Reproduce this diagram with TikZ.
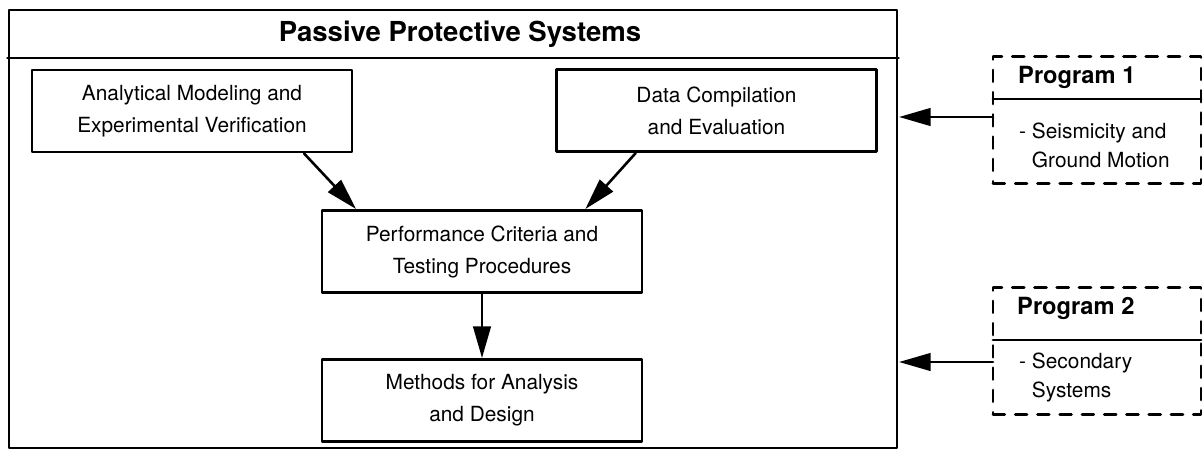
\documentclass[tikz,border=0pt]{standalone}
\usepackage{fontspec}
\setmainfont{TeX Gyre Heros}
\usetikzlibrary{arrows.meta}
\usetikzlibrary{calc}
\tikzset{
	block/.style={draw, line width=2.5pt, minimum width=9.6cm, minimum height=2.46cm, inner sep=0pt, align=center, font=\fontsize{17.8}{27.3}\selectfont},
	progbox/.style={draw, dash pattern=on 10pt off 9pt, line width=2.5pt, minimum width=6.24cm, minimum height=3.81cm, inner sep=0pt, outer sep=0pt},
	progtitle/.style={anchor=base west, inner sep=0pt, font=\fontsize{20.2}{24}\selectfont\bfseries},
	progtext/.style={anchor=west, align=left, inner sep=0pt, font=\fontsize{17.8}{24.7}\selectfont},
	arr/.style={-{Triangle[length=27pt, width=15pt]}, line width=2.2pt}
}

\begin{document}
\begin{tikzpicture}[line cap=round, line join=round, x=0.03cm, y=-0.03cm]
	\useasboundingbox (0,0) rectangle (1203,450);
	\node[draw, line width=2.5pt, minimum width=26.64cm, minimum height=13.14cm, inner sep=0pt] (outer) at (453,229) {};
	\coordinate (titlesep) at (0,58);
	\draw[line width=2.5pt] (outer.west |- titlesep) -- (outer.east |- titlesep);
	\node[font=\fontsize{23.5}{28}\selectfont\bfseries] (title) at (460,34) {Passive Protective Systems};
	\node[block] (analyt) at (192,111) {Analytical Modeling and\\Experimental Verification};
	\node[block] (datacomp) at (716.5,110.5) {Data Compilation\\and Evaluation};
	\node[block] (perf) at (482,251.5) {Performance Criteria and\\Testing Procedures};
	\node[block] (methods) at (482,400.5) {Methods for Analysis\\and Design};
	\draw[arr] ($(analyt.south west)!0.847!(analyt.south east)$) -- ($(perf.north west)!0.11!(perf.north east)$);
	\draw[arr] ($(datacomp.south west)!0.25!(datacomp.south east)$) -- ($(perf.north west)!0.82!(perf.north east)$);
	\draw[arr] (perf.south) -- (methods.north);
	% program 1
	\node[progbox] (prog1) at (1097,120) {};
	\coordinate (sep1) at (0,99);
	\draw[line width=2.5pt] (prog1.west |- sep1) -- (prog1.east |- sep1);
	\node[progtitle] (prog1title) at (1018,84) {Program 1};
	\node[progtext] (prog1text) at (1019,145) {- Seismicity and\\\phantom{- }Ground Motion};
	\coordinate (in1) at (899,117);
	\draw[arr] (prog1.west |- in1) -- (in1);
	% program 2
	\node[progbox] (prog2) at (1097,351) {};
	\coordinate (sep2) at (0,340);
	\draw[line width=2.5pt] (prog2.west |- sep2) -- (prog2.east |- sep2);
	\node[progtitle] (prog2title) at (1017,314) {Program 2};
	\node[progtext] (prog2text) at (1019,377.5) {- Secondary\\\phantom{- }Systems};
	\coordinate (in2) at (899,362);
	\draw[arr] (prog2.west |- in2) -- (in2);
\end{tikzpicture}
\end{document}
